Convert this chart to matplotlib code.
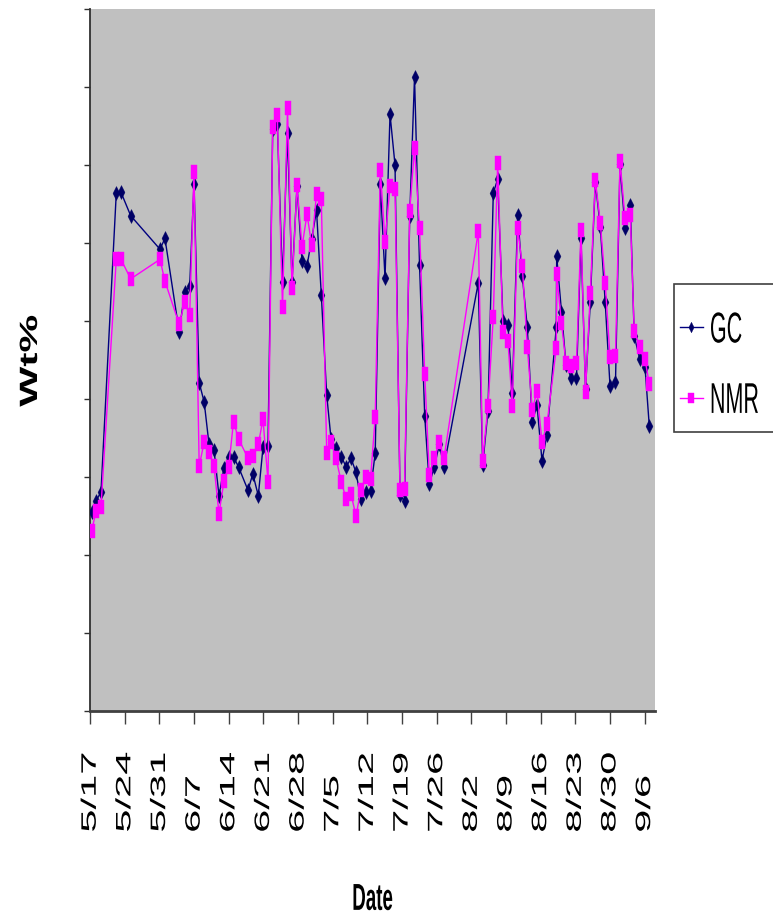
import matplotlib
matplotlib.use('Agg')
import matplotlib.pyplot as plt
from matplotlib.patheffects import AbstractPathEffect
from matplotlib.transforms import Affine2D
from matplotlib.patches import Rectangle

# ---------------- data (days after 5/17, Wt%) ----------------
days = [0.3, 1.17, 2.18, 5.27, 6.22, 8.18, 14.1, 15.1, 17.98, 19.09, 20.1, 20.97,
        22.02, 23.03, 24.0, 25.01, 26.02, 27.03, 27.98, 28.95, 29.96, 31.88, 32.85,
        33.96, 34.91, 35.92, 36.87, 37.8, 38.85, 39.86, 40.77, 41.78, 42.79, 43.8,
        44.75, 45.72, 46.69, 47.78, 48.65, 49.66, 50.71, 51.72, 52.69, 53.7, 54.65,
        55.66, 56.63, 57.58, 58.61, 59.56, 60.57, 61.58, 62.59, 63.5, 64.55, 65.52,
        66.53, 67.58, 68.5, 69.52, 70.53, 71.47, 78.4, 79.29, 80.36, 81.43, 82.32,
        83.39, 84.4, 85.27, 86.36, 87.29, 88.3, 89.31, 90.26, 91.27, 92.28, 94.16,
        94.24, 95.21, 96.12, 97.19, 98.24, 99.15, 100.06, 101.03, 102.04, 103.05,
        104.04, 105.01, 106.12, 107.03, 108.04, 109.11, 109.9, 111.03, 112.08, 112.95]

gc = [2.55, 2.69, 2.81, 6.64, 6.65, 6.35, 5.92, 6.06, 4.86, 5.37, 5.45, 6.76,
      4.21, 3.96, 3.42, 3.35, 2.76, 3.12, 3.26, 3.26, 3.13, 2.83, 3.04,
      2.76, 3.38, 3.40, 7.46, 7.53, 5.50, 7.41, 5.50, 6.73, 5.77, 5.71,
      6.05, 6.42, 5.33, 4.05, 3.49, 3.37, 3.26, 3.13, 3.24, 3.06, 2.72,
      2.81, 2.82, 3.31, 6.76, 5.55, 7.65, 7.00, 2.77, 2.69, 6.35, 8.13,
      5.72, 3.78, 2.91, 3.13, 3.42, 3.13, 5.49, 3.15, 3.85, 6.64, 6.82,
      5.00, 4.95, 4.08, 6.36, 5.58, 4.92, 3.71, 3.92, 3.21, 3.54, 4.92,
      5.83, 5.12, 4.44, 4.27, 4.27, 6.06, 4.13, 5.24, 6.78, 6.21,
      5.24, 4.17, 4.22, 7.01, 6.19, 6.49, 4.81, 4.51, 4.41, 3.65]

nmr = [2.31, 2.56, 2.62, 5.79, 5.79, 5.54, 5.79, 5.51, 4.96, 5.24, 5.08, 6.91,
       3.14, 3.45, 3.32, 3.14, 2.53, 2.95, 3.13, 3.71, 3.49, 3.24, 3.27,
       3.42, 3.74, 2.94, 7.49, 7.64, 5.18, 7.73, 5.42, 6.74, 5.95, 6.37,
       5.97, 6.63, 6.56, 3.31, 3.45, 3.24, 2.94, 2.72, 2.78, 2.50, 2.83,
       3.00, 2.97, 3.77, 6.94, 6.01, 6.73, 6.69, 2.83, 2.85, 6.41, 7.22,
       6.19, 4.32, 3.03, 3.24, 3.45, 3.24, 6.15, 3.21, 3.91, 5.05, 7.03,
       4.86, 4.74, 3.91, 6.19, 5.71, 4.67, 3.86, 4.10, 3.45, 3.68, 4.65,
       5.60, 4.97, 4.46, 4.42, 4.46, 6.17, 4.09, 5.36, 6.81, 6.26,
       5.49, 4.54, 4.55, 7.05, 6.32, 6.36, 4.87, 4.67, 4.51, 4.19]

tick_days = [0, 7, 14, 21, 28, 35, 42, 49, 56, 63, 70, 77, 84, 91, 98, 105, 112]
tick_labels = ['5/17', '5/24', '5/31', '6/7', '6/14', '6/21', '6/28', '7/5', '7/12',
               '7/19', '7/26', '8/2', '8/9', '8/16', '8/23', '8/30', '9/6']
y_ticks = [0, 1, 2, 3, 4, 5, 6, 7, 8, 9]
series_names = ['GC', 'NMR']


# ---------------- text stretch (reference is vertically stretched) ----------------
class VStretch(AbstractPathEffect):
    def __init__(self, sy=2.0, anchor='center'):
        super().__init__()
        self.sy = sy
        self.anchor = anchor

    def draw_path(self, renderer, gc_, tpath, affine, rgbFace=None):
        bb = tpath.get_extents(affine)
        if self.anchor == 'top':
            cy = bb.y1
        elif self.anchor == 'bottom':
            cy = bb.y0
        else:
            cy = 0.5 * (bb.y0 + bb.y1)
        t = affine + Affine2D().translate(0, -cy).scale(1, self.sy).translate(0, cy)
        renderer.draw_path(gc_, tpath, t, rgbFace)


plt.rcParams['font.family'] = ['Liberation Sans', 'DejaVu Sans']

W, H = 773, 920
fig = plt.figure(figsize=(W / 100, H / 100), dpi=100, facecolor='white')
L, R, T, B = 90, 655, 10, 712
ax = fig.add_axes([L / W, 1 - B / H, (R - L) / W, (B - T) / H])
ax.set_facecolor('#C0C0C0')

diamond = [(0, -1), (0.5, 0), (0, 1), (-0.5, 0), (0, -1)]
rect = [(-0.5, -1), (0.5, -1), (0.5, 1), (-0.5, 1), (-0.5, -1)]

l1, = ax.plot(days, gc, color='#000080', lw=1.0, marker=diamond, ms=10,
              mfc='#000066', mec='#000066', mew=0.3, label=series_names[0], zorder=3)
l2, = ax.plot(days, nmr, color='#FF00FF', lw=1.0, marker=rect, ms=10,
              mfc='#FF00FF', mec='#FF00FF', mew=0.3, label=series_names[1], zorder=4)

ax.set_xlim(-0.04, 114.1)
ax.set_ylim(0, 9)
ax.set_xticks(tick_days)
ax.set_xticklabels(tick_labels, rotation=90, fontsize=15, va='bottom')
ax.set_yticks(y_ticks)
ax.set_yticklabels([])

for s in ['top', 'right']:
    ax.spines[s].set_visible(False)
ax.spines['left'].set_color('#303030')
ax.spines['left'].set_linewidth(1.3)
ax.spines['bottom'].set_color('#404040')
ax.spines['bottom'].set_linewidth(2.0)
ax.tick_params(axis='x', direction='out', length=9, width=1.0, color='#404040', pad=78)
ax.tick_params(axis='y', direction='out', length=4, width=1.0, color='#303030')

for t in ax.get_xticklabels():
    t.set_path_effects([VStretch(2.0, 'bottom')])

# axis titles
fig.text(372.5 / W, 1 - 900 / H, 'Date', ha='center', va='center', fontsize=13.5,
         fontweight='bold', path_effects=[VStretch(2.0)])
fig.text(30 / W, 1 - 362 / H, 'Wt%', ha='center', va='center', rotation=90, fontsize=18,
         fontweight='bold', path_effects=[VStretch(1.7)])

# legend box + legend
fig.add_artist(Rectangle((674 / W, 1 - 433 / H), 130 / W, (433 - 285) / H,
                         transform=fig.transFigure, facecolor='white', edgecolor='#404040',
                         lw=1.2, zorder=5, clip_on=False))
leg = fig.legend(handles=[l1, l2], labels=series_names, loc='upper left',
                 bbox_to_anchor=(680 / W, 1 - 320 / H), bbox_transform=fig.transFigure,
                 frameon=False, fontsize=15.5, borderpad=0, borderaxespad=0,
                 labelspacing=2.3, handlelength=1.05, handletextpad=0.34, markerscale=0.75)
leg.set_zorder(6)
for t in leg.get_texts():
    t.set_path_effects([VStretch(2.0)])

fig.savefig('out.png', dpi=100)
